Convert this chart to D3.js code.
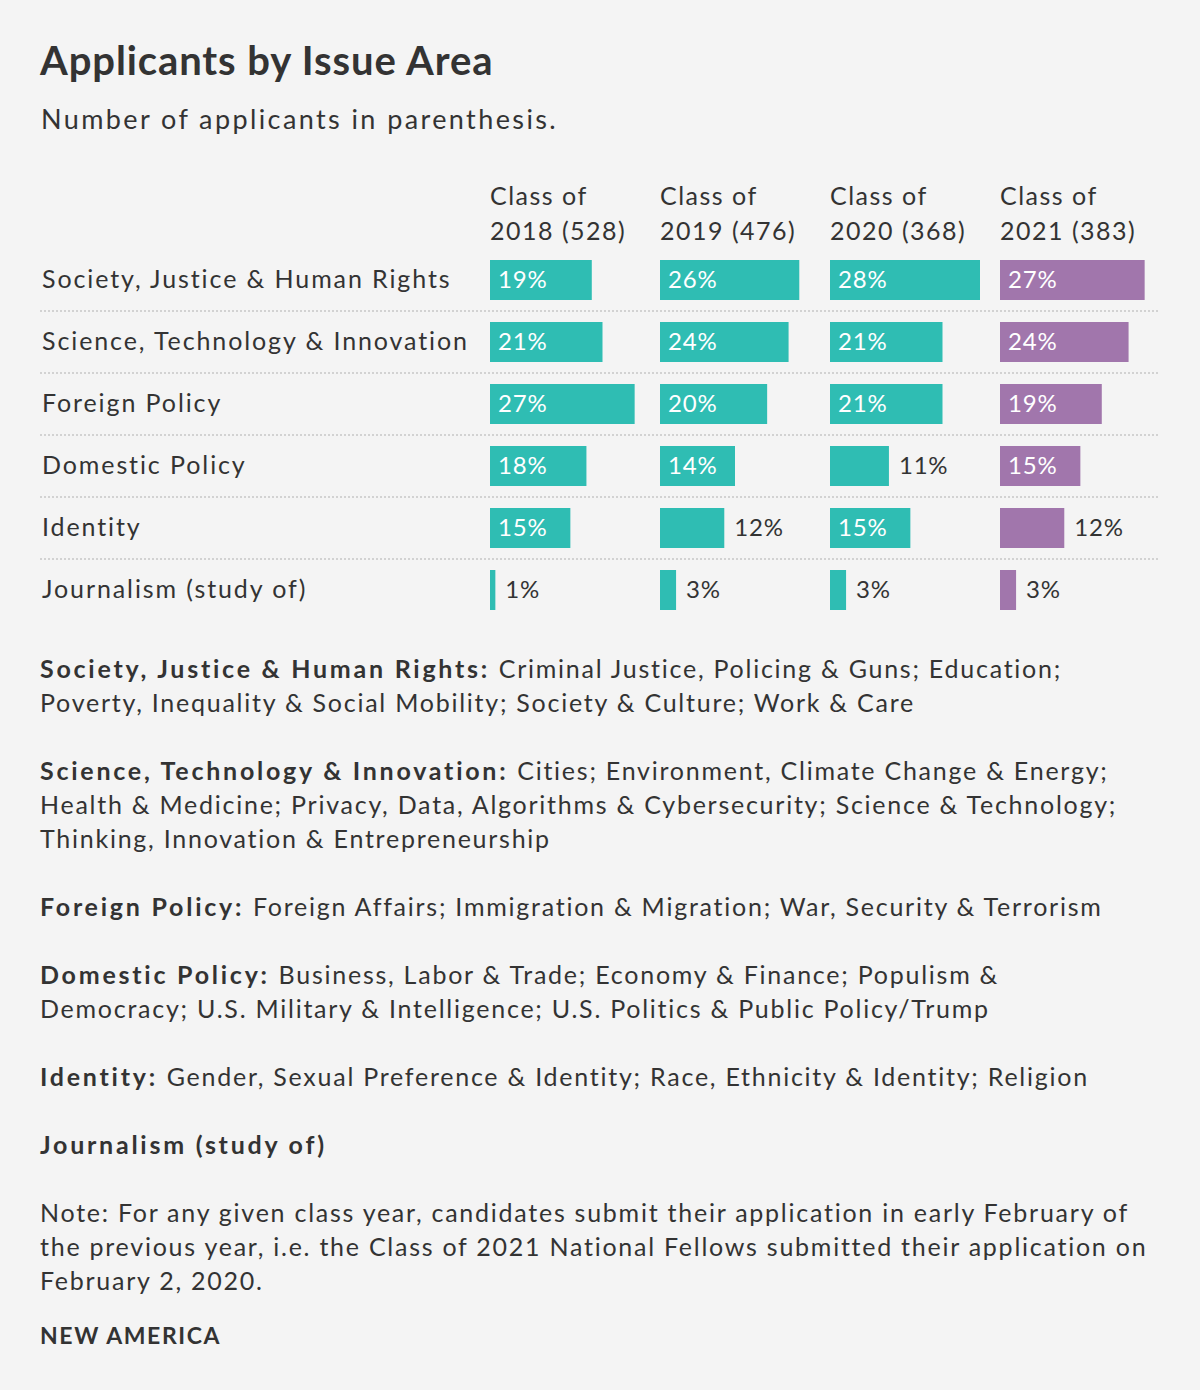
<!DOCTYPE html>
<html>
<head>
<meta charset="utf-8">
<script src="https://cdn.jsdelivr.net/npm/d3@7"></script>
<style>
  html, body { margin: 0; padding: 0; background: #f4f4f4; }
  svg { display: block; font-family: Lato, "Noto Sans", sans-serif; }
</style>
</head>
<body>
<div id="chart"></div>
<script>
// data
var categories = ["Society, Justice & Human Rights", "Science, Technology & Innovation",
    "Foreign Policy", "Domestic Policy", "Identity", "Journalism (study of)"];
var classYears = ["2018", "2019", "2020", "2021"];
var applicants = [528, 476, 368, 383];
var share2018 = [19, 21, 27, 18, 15, 1];
var share2019 = [26, 24, 20, 14, 12, 3];
var share2020 = [28, 21, 21, 11, 15, 3];
var share2021 = [27, 24, 19, 15, 12, 3];
var shares = [share2018, share2019, share2020, share2021];

var notes = [
    [["Society, Justice & Human Rights: ", "Criminal Justice, Policing & Guns; Education;"],
     ["", "Poverty, Inequality & Social Mobility; Society & Culture; Work & Care"]],
    [["Science, Technology & Innovation: ", "Cities; Environment, Climate Change & Energy;"],
     ["", "Health & Medicine; Privacy, Data, Algorithms & Cybersecurity; Science & Technology;"],
     ["", "Thinking, Innovation & Entrepreneurship"]],
    [["Foreign Policy: ", "Foreign Affairs; Immigration & Migration; War, Security & Terrorism"]],
    [["Domestic Policy: ", "Business, Labor & Trade; Economy & Finance; Populism &"],
     ["", "Democracy; U.S. Military & Intelligence; U.S. Politics & Public Policy/Trump"]],
    [["Identity: ", "Gender, Sexual Preference & Identity; Race, Ethnicity & Identity; Religion"]],
    [["Journalism (study of)", ""]],
    [["", "Note: For any given class year, candidates submit their application in early February of"],
     ["", "the previous year, i.e. the Class of 2021 National Fellows submitted their application on"],
     ["", "February 2, 2020."]]
];

(function(){
    'use strict';
    var W = 1200, H = 1390;
    var ink = "#333333", teal = "#2fbdb3", purple = "#a176ac";

    var svg = d3.select("#chart").append("svg")
        .attr("width", W).attr("height", H);
    svg.append("rect").attr("width", W).attr("height", H).attr("fill", "#f4f4f4");

    svg.append("text").attr("x", 40).attr("y", 75)
        .attr("fill", ink).attr("font-size", 40).attr("font-weight", 700)
        .attr("letter-spacing", 0.9)
        .text("Applicants by Issue Area");
    svg.append("text").attr("x", 41).attr("y", 129)
        .attr("fill", ink).attr("font-size", 27).attr("letter-spacing", 2.4)
        .text("Number of applicants in parenthesis.");

    var y = d3.scaleBand().domain(categories).range([249, 621])
        .paddingInner(0.355).paddingOuter(0.1775);
    var col = d3.scalePoint().domain(classYears).range([490, 1000]);
    var w = d3.scaleLinear().domain([0, 28]).range([0, 150]);

    // column headers
    var head = svg.append("g").selectAll("text").data(classYears).enter()
        .append("text")
        .attr("fill", ink).attr("font-size", 25).attr("letter-spacing", 1.5);
    head.append("tspan").attr("x", function(d){return col(d);}).attr("y", 205).text("Class of");
    head.append("tspan").attr("x", function(d){return col(d);}).attr("y", 240)
        .text(function(d, i){return d + " (" + applicants[i] + ")";});

    // separators
    svg.append("g").selectAll("line").data(categories.slice(1)).enter()
        .append("line")
        .attr("x1", 40).attr("x2", 1158)
        .attr("y1", function(d){return y(d) - 11;})
        .attr("y2", function(d){return y(d) - 11;})
        .attr("stroke", "#d2d2d2").attr("stroke-width", 2).attr("stroke-dasharray", "2,2");

    // row labels
    svg.append("g").selectAll("text").data(categories).enter()
        .append("text")
        .attr("x", 42).attr("y", function(d){return y(d) + 28;})
        .attr("fill", ink).attr("font-size", 25).attr("letter-spacing", 1.9)
        .text(function(d){return d;});

    // bars
    classYears.forEach(function(yr, ci){
        var cells = categories.map(function(c, ri){return {cat: c, v: shares[ci][ri]};});
        var g = svg.append("g");
        var fill = yr === "2021" ? purple : teal;
        g.selectAll("rect").data(cells).enter().append("rect")
            .attr("x", col(yr)).attr("y", function(d){return y(d.cat);})
            .attr("width", function(d){return w(d.v);})
            .attr("height", y.bandwidth())
            .attr("fill", fill);
        g.selectAll("text").data(cells).enter().append("text")
            .attr("x", function(d){return d.v > 13 ? col(yr) + 8 : col(yr) + w(d.v) + 10;})
            .attr("y", function(d){return y(d.cat) + 28;})
            .attr("fill", function(d){return d.v > 13 ? "#ffffff" : ink;})
            .attr("font-size", 24).attr("letter-spacing", 0.8)
            .text(function(d){return d.v + "%";});
    });

    // definitions and note
    var lineY = 678;
    notes.forEach(function(block){
        block.forEach(function(ln){
            var t = svg.append("text").attr("x", 40).attr("y", lineY)
                .attr("fill", ink).attr("font-size", 25);
            if (ln[0]) t.append("tspan").attr("font-weight", 700).attr("letter-spacing", 2.75).text(ln[0]);
            if (ln[1]) t.append("tspan").attr("letter-spacing", 1.75).text(ln[1]);
            lineY += 34;
        });
        lineY += 34;
    });

    svg.append("text").attr("x", 40).attr("y", 1344)
        .attr("fill", ink).attr("font-size", 23).attr("font-weight", 700)
        .attr("letter-spacing", 1.6)
        .text("NEW AMERICA");
}());
</script>
</body>
</html>
